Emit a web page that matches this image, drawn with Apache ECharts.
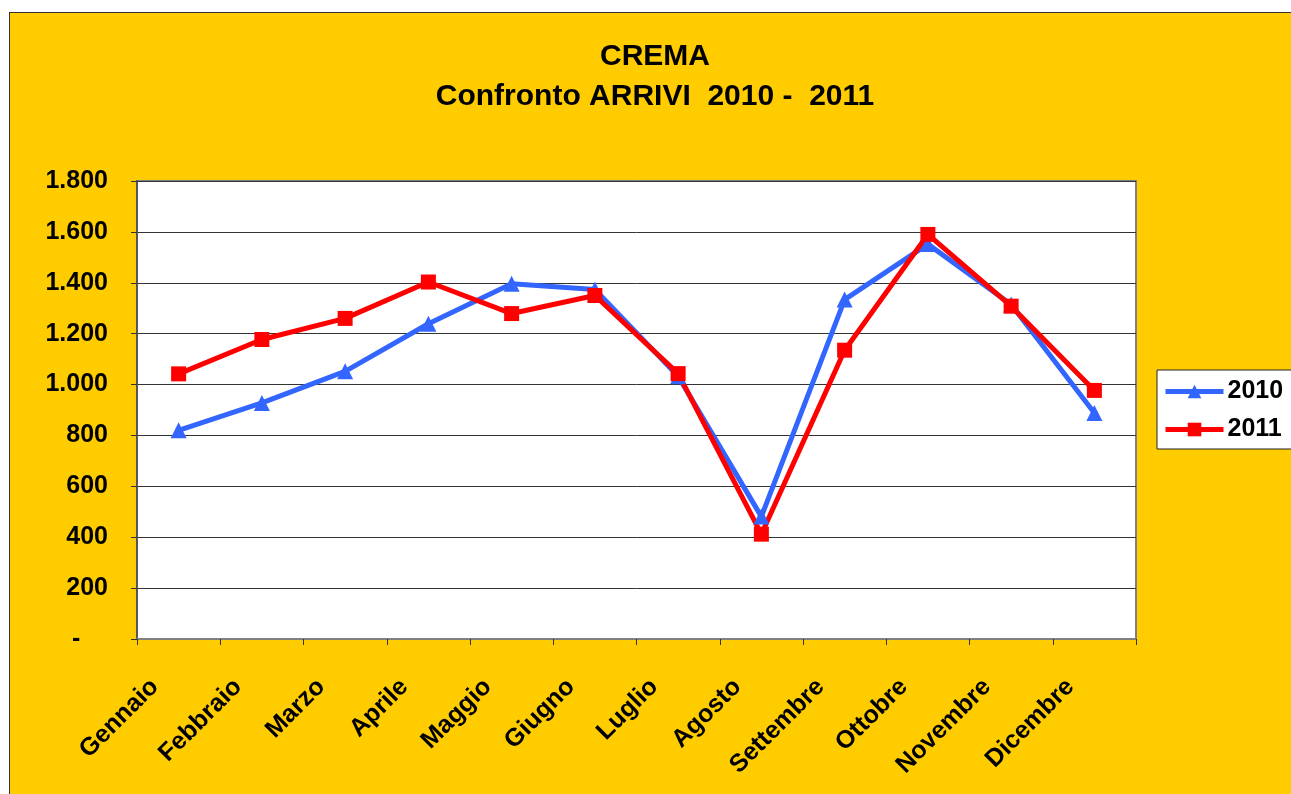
<!DOCTYPE html>
<html>
<head>
<meta charset="utf-8">
<script src="https://cdn.jsdelivr.net/npm/echarts@6/dist/echarts.min.js"></script>
<style>
  html, body { margin: 0; padding: 0; background: #fff; overflow: hidden; width: 1291px; height: 794px; }
  #chart {
    position: absolute;
    left: 9px;
    top: 12px;
    width: 1290px;
    height: 800px;
    border: 1px solid #333;
    background-color: #FFCC00;
  }
</style>
</head>
<body>
<div id="chart"></div>
<script>
// months
const mesi = ['Gennaio', 'Febbraio', 'Marzo', 'Aprile', 'Maggio', 'Giugno',
  'Luglio', 'Agosto', 'Settembre', 'Ottobre', 'Novembre', 'Dicembre'];
// arrivi per year
const arrivi2010 = [820, 928, 1052, 1239, 1396, 1374, 1033, 481, 1334, 1552, 1315, 888];
const arrivi2011 = [1042, 1177, 1260, 1403, 1279, 1350, 1043, 412, 1135, 1590, 1308, 977];
// y axis ticks
const yMin = 0;
const yMax = 1800;
const yStep = 200;

const font = 'Liberation Sans, Arial, sans-serif';

function fmt(v) {
  if (v === 0) return '-    ';
  return String(v).replace(/\B(?=(\d{3})+(?!\d))/g, '.');
}

const chart = echarts.init(document.getElementById('chart'));
chart.setOption({
  animation: false,
  title: {
    text: 'CREMA\nConfronto ARRIVI  2010 -  2011',
    left: 'center',
    top: 19,
    textStyle: {
      fontFamily: font,
      fontSize: 30,
      fontWeight: 'bold',
      color: '#000',
      lineHeight: 40
    }
  },
  legend: {
    orient: 'vertical',
    left: 1147,
    top: 357,
    data: ['2010', '2011'],
    backgroundColor: '#fff',
    borderColor: '#222',
    borderWidth: 1,
    borderRadius: 0,
    padding: [9, 10, 7, 6],
    itemGap: 13,
    itemWidth: 58,
    itemHeight: 17,
    lineStyle: { width: 5 },
    textStyle: {
      fontFamily: font,
      fontSize: 25,
      fontWeight: 'bold',
      color: '#000',
      padding: [0, 0, 0, -1]
    }
  },
  grid: {
    show: true,
    left: 127,
    top: 168,
    width: 999,
    height: 458,
    backgroundColor: '#fff',
    borderColor: '#808080',
    borderWidth: 2
  },
  xAxis: {
    type: 'category',
    data: mesi,
    boundaryGap: true,
    axisLine: { lineStyle: { color: '#808080', width: 2 } },
    axisTick: { show: true, length: 6, alignWithLabel: false, lineStyle: { color: '#333' } },
    axisLabel: {
      rotate: 45,
      interval: 0,
      margin: 20,
      padding: [0, 34, 0, 0],
      fontFamily: font,
      fontSize: 25,
      fontWeight: 'bold',
      color: '#000'
    }
  },
  yAxis: {
    type: 'value',
    min: yMin,
    max: yMax,
    interval: yStep,
    axisLine: { show: true, lineStyle: { color: '#555', width: 2 } },
    axisTick: { show: true, length: 6, lineStyle: { color: '#333' } },
    splitLine: { lineStyle: { color: '#333', width: 1 } },
    axisLabel: {
      margin: 29,
      formatter: fmt,
      fontFamily: font,
      fontSize: 25,
      fontWeight: 'bold',
      color: '#000'
    }
  },
  series: [
    {
      name: '2010',
      type: 'line',
      data: arrivi2010,
      symbol: 'triangle',
      symbolSize: 16,
      color: '#3366FF',
      lineStyle: { width: 5, color: '#3366FF' },
      itemStyle: { color: '#3366FF' }
    },
    {
      name: '2011',
      type: 'line',
      data: arrivi2011,
      symbol: 'rect',
      symbolSize: 15,
      color: '#FF0000',
      lineStyle: { width: 5, color: '#FF0000' },
      itemStyle: { color: '#FF0000' }
    }
  ]
});
</script>
</body>
</html>
